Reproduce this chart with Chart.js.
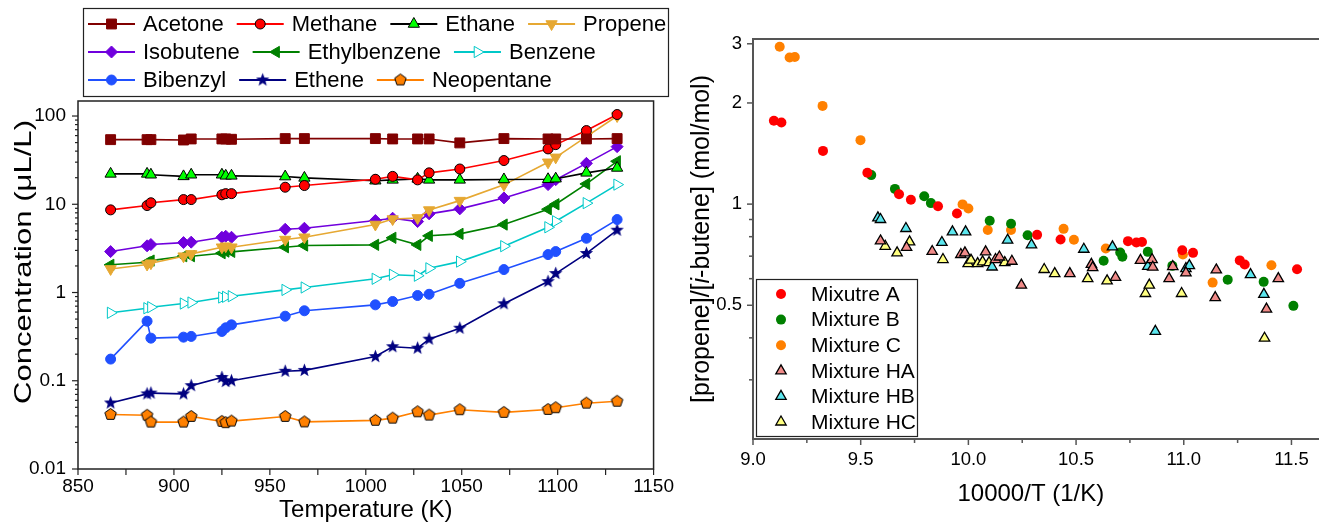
<!DOCTYPE html>
<html>
<head>
<meta charset="utf-8">
<script src="https://cdn.jsdelivr.net/npm/chart.js@4.4.1/dist/chart.umd.min.js"></script>
<style>
    body { margin: 0; background: #fff; }
    #leftBox { position: absolute; left: 0; top: 0; width: 680px; height: 525px; }
    #rightBox { position: absolute; left: 680px; top: 0; width: 639px; height: 525px; }
</style>
</head>
<body>
<div id="leftBox"><canvas id="concChart" width="680" height="525"></canvas></div>
<div id="rightBox"><canvas id="ratioChart" width="639" height="525"></canvas></div>
<script>
// ---- left panel: product concentrations vs temperature ----
var temperatures = [867, 886, 888, 905, 909, 925, 927, 930, 958, 968, 1005, 1014, 1027, 1033, 1049, 1072, 1095, 1099, 1115, 1131];
var acetone      = [54, 54, 54, 53.5, 55, 55, 55, 54.5, 55.5, 55.5, 55.5, 55, 55, 55, 49.6, 55.5, 55, 55, 55, 55.5];
var methane      = [8.64, 9.67, 10.4, 11.3, 11.3, 12.8, 13.2, 13.2, 15.6, 16.3, 19.2, 20.7, 18.9, 22.7, 25.1, 31.3, 42.4, 47.4, 68.4, 104];
var ethane       = [22.1, 22.1, 21.6, 20.7, 21.6, 21.6, 21.0, 21.0, 20.6, 19.9, 18.5, 18.9, 19.4, 18.9, 18.9, 19.1, 19.2, 19.5, 22.7, 25.8];
var propene      = [1.85, 2.08, 2.15, 2.58, 2.74, 3.26, 3.35, 3.26, 3.98, 4.23, 5.9, 6.8, 7.0, 8.6, 11.0, 16.6, 29.9, 34.0, 58.4, 100];
var isobutene    = [2.91, 3.38, 3.5, 3.68, 3.72, 4.23, 4.34, 4.23, 5.21, 5.35, 6.54, 6.95, 6.37, 7.79, 8.87, 11.8, 16.7, 19.0, 29.1, 45.0];
var ethylbenzene = [2.06, 2.2, 2.3, 2.58, 2.58, 2.79, 2.91, 2.89, 3.26, 3.41, 3.47, 4.17, 3.47, 4.39, 4.62, 5.89, 8.78, 10.0, 17.0, 30.7];
var benzene      = [0.589, 0.664, 0.682, 0.75, 0.77, 0.878, 0.894, 0.908, 1.07, 1.14, 1.43, 1.59, 1.55, 1.88, 2.24, 3.35, 5.49, 6.42, 10.3, 16.7];
var bibenzyl     = [0.176, 0.473, 0.304, 0.312, 0.318, 0.362, 0.398, 0.43, 0.539, 0.621, 0.725, 0.791, 0.925, 0.955, 1.27, 1.82, 2.69, 2.91, 4.12, 6.71];
var ethene       = [0.056, 0.071, 0.0725, 0.071, 0.088, 0.109, 0.098, 0.1, 0.128, 0.131, 0.188, 0.243, 0.234, 0.296, 0.394, 0.745, 1.33, 1.64, 2.77, 5.08];
var neopentane   = [0.0415, 0.0406, 0.034, 0.034, 0.0394, 0.0346, 0.0335, 0.0349, 0.0394, 0.0342, 0.0356, 0.0377, 0.0445, 0.0408, 0.047, 0.0438, 0.0473, 0.0495, 0.0557, 0.0585];

var tempTicks = [850, 900, 950, 1000, 1050, 1100, 1150];
var tempMinorTicks = [875, 925, 975, 1025, 1075, 1125];
var concTicks = [0.01, 0.1, 1, 10, 100];

// ---- right panel: propene / i-butene ratio vs 10000/T ----
var mixAx = [9.097, 9.132, 9.325, 9.531, 9.678, 9.733, 9.859, 9.947, 10.319, 10.428, 10.741, 10.78, 10.806, 10.993, 11.043, 11.26, 11.283, 11.526];
var mixAy = [1.77, 1.75, 1.44, 1.24, 1.07, 1.03, 0.986, 0.938, 0.81, 0.785, 0.776, 0.769, 0.771, 0.729, 0.716, 0.68, 0.661, 0.64];
var mixBx = [9.549, 9.659, 9.795, 9.826, 10.099, 10.198, 10.275, 10.628, 10.705, 10.715, 10.833, 10.947, 11.204, 11.371, 11.509];
var mixBy = [1.22, 1.11, 1.056, 1.007, 0.892, 0.874, 0.808, 0.678, 0.718, 0.697, 0.721, 0.655, 0.596, 0.587, 0.498];
var mixCx = [9.124, 9.17, 9.194, 9.323, 9.499, 9.973, 10.0, 10.09, 10.198, 10.442, 10.49, 10.638, 10.996, 11.134, 11.407];
var mixCy = [2.94, 2.73, 2.74, 1.96, 1.55, 0.998, 0.971, 0.838, 0.838, 0.844, 0.783, 0.738, 0.708, 0.584, 0.658];
var mixHAx = [9.592, 9.713, 9.832, 9.965, 9.984, 10.08, 10.126, 10.144, 10.202, 10.246, 10.471, 10.571, 10.577, 10.683, 10.799, 10.853, 10.856, 10.932, 10.949, 11.01, 11.151, 11.146, 11.384, 11.439];
var mixHAy = [0.777, 0.743, 0.723, 0.708, 0.716, 0.721, 0.684, 0.696, 0.676, 0.574, 0.621, 0.662, 0.647, 0.605, 0.68, 0.684, 0.649, 0.6, 0.652, 0.624, 0.637, 0.527, 0.487, 0.6];
var mixHBx = [9.58, 9.592, 9.71, 9.877, 9.926, 9.987, 10.11, 10.182, 10.293, 10.536, 10.669, 10.833, 10.868, 11.01, 11.026, 11.31, 11.372];
var mixHBy = [0.91, 0.9, 0.846, 0.769, 0.827, 0.827, 0.65, 0.781, 0.756, 0.734, 0.746, 0.653, 0.418, 0.643, 0.656, 0.617, 0.539];
var mixHCx = [9.614, 9.669, 9.727, 9.882, 9.999, 10.012, 10.043, 10.066, 10.096, 10.169, 10.352, 10.401, 10.554, 10.644, 10.822, 10.84, 10.99, 11.375];
var mixHCy = [0.749, 0.716, 0.772, 0.684, 0.665, 0.681, 0.665, 0.673, 0.67, 0.67, 0.639, 0.621, 0.6, 0.591, 0.542, 0.574, 0.542, 0.399];

var invTempTicks = [9.0, 9.5, 10.0, 10.5, 11.0, 11.5];
var invTempMinorTicks = [9.25, 9.75, 10.25, 10.75, 11.25];
var ratioTicks = [0.5, 1, 2, 3];
var ratioMinorTicks = [0.3, 0.4, 0.6, 0.7, 0.8, 0.9];

var fontFamily = "'Liberation Sans', Arial, Helvetica, sans-serif";
Chart.defaults.font.family = fontFamily;
Chart.defaults.color = '#000';

function makeMarker(r, drawShape) {
    var size = Math.ceil(r * 2 + 3);
    var c = document.createElement('canvas');
    c.width = size;
    c.height = size;
    drawShape(c.getContext('2d'), size / 2, r);
    return c;
}

var starMarker = makeMarker(7, function (g, m, r) {
    g.beginPath();
    for (var k = 0; k < 10; k++) {
        var rad = k % 2 === 0 ? r : r * 0.42;
        var a = -Math.PI / 2 + k * Math.PI / 5;
        if (k === 0) g.moveTo(m + rad * Math.cos(a), m + rad * Math.sin(a));
        else g.lineTo(m + rad * Math.cos(a), m + rad * Math.sin(a));
    }
    g.closePath();
    g.fillStyle = '#000080';
    g.fill();
});

var pentagonMarker = makeMarker(6, function (g, m, r) {
    g.beginPath();
    for (var k = 0; k < 5; k++) {
        var a = -Math.PI / 2 + k * 2 * Math.PI / 5;
        if (k === 0) g.moveTo(m + r * Math.cos(a), m + r * Math.sin(a));
        else g.lineTo(m + r * Math.cos(a), m + r * Math.sin(a));
    }
    g.closePath();
    g.fillStyle = '#FF8000';
    g.fill();
    g.lineWidth = 1;
    g.strokeStyle = '#000';
    g.stroke();
});

function seriesPoints(values) {
    return temperatures.map(function (t, i) { return { x: t, y: values[i] }; });
}

function pairPoints(xs, ys) {
    return xs.map(function (x, i) { return { x: x, y: ys[i] }; });
}

function lineSeries(label, values, lineColor, fill, edge, style, radius, rotation) {
    return {
        label: label,
        data: seriesPoints(values),
        borderColor: lineColor,
        borderWidth: 1.6,
        backgroundColor: fill,
        pointBackgroundColor: fill,
        pointBorderColor: edge,
        pointBorderWidth: 1,
        pointStyle: style,
        pointRadius: radius,
        pointRotation: rotation || 0,
        tension: 0
    };
}

// minor / major tick marks and the frame, drawn from the chart's own scales
function drawTickMarks(ctx, scale, values, len, horizontal, area) {
    values.forEach(function (v) {
        var p = scale.getPixelForValue(v);
        ctx.beginPath();
        if (horizontal) {
            ctx.moveTo(p, area.bottom);
            ctx.lineTo(p, area.bottom + len);
        } else {
            ctx.moveTo(area.left, p);
            ctx.lineTo(area.left - len, p);
        }
        ctx.stroke();
    });
}

// rotated title, stretched along its length to the span it has in the figure
function drawVerticalTitle(ctx, parts, size, cx, cy, span) {
    var total = 0;
    parts.forEach(function (p) {
        ctx.font = p[1] + size + 'px ' + fontFamily;
        total += ctx.measureText(p[0]).width;
    });
    ctx.save();
    ctx.translate(cx, cy);
    ctx.rotate(-Math.PI / 2);
    if (span) ctx.scale(span / total, 1);
    ctx.fillStyle = '#000';
    ctx.textBaseline = 'middle';
    var x = -total / 2;
    parts.forEach(function (p) {
        ctx.font = p[1] + size + 'px ' + fontFamily;
        ctx.fillText(p[0], x, 0);
        x += ctx.measureText(p[0]).width;
    });
    ctx.restore();
}

var concFramePlugin = {
    id: 'concFrame',
    afterDraw: function (chart) {
        var ctx = chart.ctx;
        var area = chart.chartArea;
        var minor = [];
        concTicks.forEach(function (d) {
            for (var k = 2; k <= 9; k++) {
                if (k * d < chart.scales.y.max) minor.push(k * d);
            }
        });
        ctx.save();
        ctx.strokeStyle = '#222';
        ctx.lineWidth = 1.5;
        ctx.strokeRect(area.left, area.top, area.right - area.left, area.bottom - area.top);
        ctx.lineWidth = 1.2;
        drawTickMarks(ctx, chart.scales.x, tempTicks, 6, true, area);
        drawTickMarks(ctx, chart.scales.x, tempMinorTicks, 6, true, area);
        drawTickMarks(ctx, chart.scales.y, concTicks, 6, false, area);
        drawTickMarks(ctx, chart.scales.y, minor, 3, false, area);
        ctx.restore();
        drawVerticalTitle(ctx, [['Concentration (\u03BCL/L)', '']], 24, 24, 262, 284);
    }
};

var concLegendPlugin = {
    id: 'concLegend',
    afterDraw: function (chart) {
        var ctx = chart.ctx;
        var rowSizes = [4, 3, 3];
        var rowY = [24, 52, 80];
        var n = 0;
        ctx.save();
        ctx.strokeStyle = '#222';
        ctx.lineWidth = 1.2;
        ctx.strokeRect(83.5, 8.5, 585, 88);
        ctx.font = '22px ' + fontFamily;
        ctx.textBaseline = 'middle';
        rowSizes.forEach(function (count, r) {
            var x = 88;
            for (var j = 0; j < count; j++) {
                var ds = chart.data.datasets[n++];
                var y = rowY[r];
                ctx.strokeStyle = ds.borderColor;
                ctx.lineWidth = 2;
                ctx.beginPath();
                ctx.moveTo(x, y);
                ctx.lineTo(x + 47, y);
                ctx.stroke();
                ctx.fillStyle = ds.pointBackgroundColor;
                ctx.strokeStyle = ds.pointBorderColor;
                ctx.lineWidth = 1;
                Chart.helpers.drawPoint(ctx, {
                    pointStyle: ds.pointStyle, radius: ds.pointRadius,
                    rotation: ds.pointRotation, borderWidth: 1
                }, x + 23.5, y);
                ctx.fillStyle = '#000';
                ctx.fillText(ds.label, x + 55, y + 1);
                x = x + 55 + ctx.measureText(ds.label).width + 13;
            }
        });
        ctx.restore();
    }
};

new Chart(document.getElementById('concChart'), {
    type: 'line',
    data: {
        datasets: [
            lineSeries('Acetone', acetone, '#800000', '#800000', '#800000', 'rect', 7),
            lineSeries('Methane', methane, '#FF0000', '#FF0000', '#000', 'circle', 5),
            lineSeries('Ethane', ethane, '#000', '#00FF00', '#000', 'triangle', 6.5),
            lineSeries('Propene', propene, '#E6A832', '#E6A832', '#E6A832', 'triangle', 6.5, 180),
            lineSeries('Isobutene', isobutene, '#7000DD', '#7000DD', '#7000DD', 'rectRot', 6),
            lineSeries('Ethylbenzene', ethylbenzene, '#008000', '#008000', '#008000', 'triangle', 6.5, -90),
            lineSeries('Benzene', benzene, '#00C8C8', '#FFFFFF', '#00C8C8', 'triangle', 6.5, 90),
            lineSeries('Bibenzyl', bibenzyl, '#2050FF', '#2050FF', '#2050FF', 'circle', 5),
            lineSeries('Ethene', ethene, '#000080', '#000080', '#000080', starMarker, 7),
            lineSeries('Neopentane', neopentane, '#FF8000', '#FF8000', '#000', pentagonMarker, 6)
        ]
    },
    options: {
        responsive: false,
        animation: false,
        layout: { padding: { left: 0, right: 19, top: 101, bottom: 0 } },
        plugins: { legend: { display: false }, tooltip: { enabled: false } },
        scales: {
            x: {
                type: 'linear',
                min: 850,
                max: 1150,
                afterBuildTicks: function (scale) {
                    scale.ticks = tempTicks.map(function (v) { return { value: v }; });
                },
                afterFit: function (scale) { scale.height = 56; },
                grid: { display: false, drawTicks: false },
                border: { display: false },
                ticks: {
                    padding: 6, autoSkip: false, maxRotation: 0,
                    font: { size: 19 }, color: '#000',
                    callback: function (v) { return String(v); }
                },
                title: {
                    display: true, text: 'Temperature (K)', color: '#000',
                    font: { size: 24 }, padding: { top: 0, bottom: 0 }
                }
            },
            y: {
                type: 'logarithmic',
                min: 0.01,
                max: 148,
                afterBuildTicks: function (scale) {
                    scale.ticks = concTicks.map(function (v) { return { value: v }; });
                },
                afterFit: function (scale) { scale.width = 78; },
                grid: { display: false, drawTicks: false },
                border: { display: false },
                ticks: {
                    padding: 12, autoSkip: false,
                    font: { size: 19 }, color: '#000',
                    callback: function (v) { return String(v); }
                },
                title: { display: false }
            }
        }
    },
    plugins: [concFramePlugin, concLegendPlugin]
});

// ---- right chart ----
var ratioFramePlugin = {
    id: 'ratioFrame',
    afterDraw: function (chart) {
        var ctx = chart.ctx;
        var area = chart.chartArea;
        ctx.save();
        ctx.strokeStyle = '#555';
        ctx.lineWidth = 2;
        ctx.beginPath();
        ctx.moveTo(chart.width, area.top);
        ctx.lineTo(area.left, area.top);
        ctx.lineTo(area.left, area.bottom);
        ctx.lineTo(chart.width, area.bottom);
        ctx.stroke();
        ctx.lineWidth = 1.5;
        drawTickMarks(ctx, chart.scales.x, invTempTicks, 6, true, area);
        drawTickMarks(ctx, chart.scales.x, invTempMinorTicks, 4, true, area);
        drawTickMarks(ctx, chart.scales.y, ratioTicks, 6, false, area);
        drawTickMarks(ctx, chart.scales.y, ratioMinorTicks, 4, false, area);
        ctx.restore();
        drawVerticalTitle(ctx, [['[propene]/[', ''], ['i', 'italic '], ['-butene] (mol/mol)', '']], 25, 22, 239, 328);
    }
};

var ratioLegendPlugin = {
    id: 'ratioLegend',
    afterDraw: function (chart) {
        var ctx = chart.ctx;
        ctx.save();
        ctx.fillStyle = '#fff';
        ctx.fillRect(76, 279, 161, 157);
        ctx.strokeStyle = '#222';
        ctx.lineWidth = 1.2;
        ctx.strokeRect(76.5, 279.5, 161, 157);
        ctx.font = '21px ' + fontFamily;
        ctx.textBaseline = 'middle';
        chart.data.datasets.forEach(function (ds, i) {
            var y = 294 + i * 25.6;
            ctx.fillStyle = ds.pointBackgroundColor;
            ctx.strokeStyle = ds.pointBorderColor;
            ctx.lineWidth = ds.pointBorderWidth || 0.01;
            Chart.helpers.drawPoint(ctx, {
                pointStyle: ds.pointStyle, radius: ds.pointRadius,
                rotation: 0, borderWidth: ds.pointBorderWidth
            }, 101, y);
            ctx.fillStyle = '#000';
            ctx.fillText(ds.label, 131, y + 1);
        });
        ctx.restore();
    }
};

function scatterSeries(label, xs, ys, fill, style, triangleEdge, order) {
    return {
        label: label,
        data: pairPoints(xs, ys),
        pointBackgroundColor: fill,
        pointBorderColor: triangleEdge ? '#000' : fill,
        pointBorderWidth: triangleEdge ? 1.3 : 0,
        pointStyle: style,
        pointRadius: style === 'circle' ? 5 : 6,
        showLine: false,
        order: order
    };
}

new Chart(document.getElementById('ratioChart'), {
    type: 'scatter',
    data: {
        datasets: [
            scatterSeries('Mixutre A', mixAx, mixAy, '#FF0000', 'circle', false, 1),
            scatterSeries('Mixture B', mixBx, mixBy, '#008000', 'circle', false, 1),
            scatterSeries('Mixture C', mixCx, mixCy, '#FF8000', 'circle', false, 1),
            scatterSeries('Mixture HA', mixHAx, mixHAy, '#F08A88', 'triangle', true, 0),
            scatterSeries('Mixture HB', mixHBx, mixHBy, '#5CE6EE', 'triangle', true, 0),
            scatterSeries('Mixture HC', mixHCx, mixHCy, '#FFFF80', 'triangle', true, 0)
        ]
    },
    options: {
        responsive: false,
        animation: false,
        layout: { padding: { left: 0, right: 0, top: 39, bottom: 0 } },
        plugins: { legend: { display: false }, tooltip: { enabled: false } },
        scales: {
            x: {
                type: 'linear',
                min: 9.0,
                max: 11.58,
                afterBuildTicks: function (scale) {
                    scale.ticks = invTempTicks.map(function (v) { return { value: v }; });
                },
                afterFit: function (scale) { scale.height = 86; },
                grid: { display: false, drawTicks: false },
                border: { display: false },
                ticks: {
                    padding: 10, autoSkip: false, maxRotation: 0,
                    font: { size: 18.5 }, color: '#000',
                    callback: function (v) { return v.toFixed(1); }
                },
                title: {
                    display: true, text: '10000/T (1/K)', color: '#000',
                    font: { size: 24 }, padding: { top: 0, bottom: 16 }
                }
            },
            y: {
                type: 'logarithmic',
                min: 0.2,
                max: 3.1,
                afterBuildTicks: function (scale) {
                    scale.ticks = ratioTicks.map(function (v) { return { value: v }; });
                },
                afterFit: function (scale) { scale.width = 73; },
                grid: { display: false, drawTicks: false },
                border: { display: false },
                ticks: {
                    padding: 11, autoSkip: false,
                    font: { size: 18.5 }, color: '#000',
                    callback: function (v) { return String(v); }
                },
                title: { display: false }
            }
        }
    },
    plugins: [ratioFramePlugin, ratioLegendPlugin]
});
</script>
</body>
</html>
